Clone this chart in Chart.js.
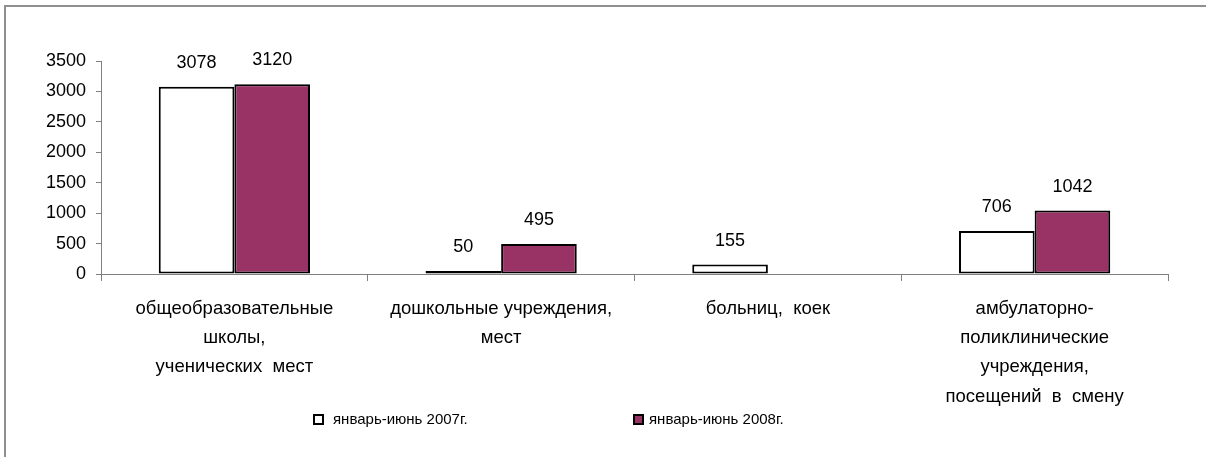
<!DOCTYPE html>
<html>
<head>
<meta charset="utf-8">
<script src="https://cdn.jsdelivr.net/npm/chart.js@4.4.1/dist/chart.umd.min.js"></script>
<style>
  html, body { margin: 0; padding: 0; background: #fff; overflow: hidden; }
  #wrap { position: relative; width: 1206px; height: 457px; overflow: hidden; }
  #frame { position: absolute; left: 4px; top: 5px; width: 1400px; height: 600px; border-left: 2px solid #8f8f8f; border-top: 2px solid #8f8f8f; }
  canvas { position: absolute; left: 0; top: 0; }
</style>
</head>
<body>
<div id="wrap">
  <div id="frame"></div>
  <canvas id="chart" width="1206" height="457"></canvas>
</div>
<script>
const categories = [
    ['общеобразовательные', 'школы,', 'ученических  мест'],
    ['дошкольные учреждения,', 'мест'],
    ['больниц,  коек'],
    ['амбулаторно-', 'поликлинические', 'учреждения,', 'посещений  в  смену']
];
const seriesNames = ['январь-июнь 2007г.', 'январь-июнь 2008г.'];
const values2007 = [3078, 50, 155, 706];
const values2008 = [3120, 495, null, 1042];
const yTicks = [0, 500, 1000, 1500, 2000, 2500, 3000, 3500];

const FONT = '"Liberation Sans", Arial, sans-serif';

// numbers above the bars
const valueLabels = {
    id: 'valueLabels',
    afterDatasetsDraw(chart) {
        const ctx = chart.ctx;
        ctx.save();
        ctx.font = '18px ' + FONT;
        ctx.fillStyle = '#000';
        ctx.textAlign = 'center';
        ctx.textBaseline = 'middle';
        chart.data.datasets.forEach((ds, i) => {
            chart.getDatasetMeta(i).data.forEach((bar, j) => {
                if (ds.data[j] == null) return;
                ctx.fillText(String(ds.data[j]), bar.x, bar.y - 24);
            });
        });
        ctx.restore();
    }
};

// legend laid out like the original sheet
const sheetLegend = {
    id: 'sheetLegend',
    afterDraw(chart) {
        const ctx = chart.ctx;
        const boxX = [313, 633];
        const textX = [333, 649];
        ctx.save();
        ctx.font = '15px ' + FONT;
        ctx.textBaseline = 'middle';
        ctx.textAlign = 'left';
        chart.data.datasets.forEach((ds, i) => {
            const y = 419;
            ctx.fillStyle = ds.backgroundColor;
            ctx.fillRect(boxX[i], y - 5, 11, 11);
            ctx.strokeStyle = '#000';
            ctx.lineWidth = 2;
            ctx.strokeRect(boxX[i] + 1, y - 4, 9, 9);
            ctx.fillStyle = '#000';
            ctx.fillText(ds.label, textX[i], y + 1);
        });
        ctx.restore();
    }
};

const ctx = document.getElementById('chart').getContext('2d');
new Chart(ctx, {
    type: 'bar',
    data: {
        labels: categories,
        datasets: [{
            label: seriesNames[0],
            data: values2007,
            backgroundColor: '#ffffff',
            borderColor: '#000000',
            borderWidth: 2,
            borderSkipped: false
        }, {
            label: seriesNames[1],
            data: values2008,
            backgroundColor: '#993366',
            borderColor: '#000000',
            borderWidth: 2,
            borderSkipped: false
        }]
    },
    options: {
        responsive: false,
        animation: false,
        devicePixelRatio: 1,
        categoryPercentage: 0.567,
        barPercentage: 1,
        layout: { padding: { left: 0, top: 61, right: 38, bottom: 0 } },
        plugins: {
            legend: { display: false },
            tooltip: { enabled: false }
        },
        scales: {
            x: {
                afterFit: scale => { scale.height = 183; },
                grid: { offset: true, drawOnChartArea: false, tickLength: 7, color: '#808080' },
                border: { color: '#808080', width: 1 },
                ticks: {
                    color: '#000',
                    padding: 13,
                    maxRotation: 0,
                    autoSkip: false,
                    font: { family: FONT, size: 18.5, lineHeight: '29.3px' }
                }
            },
            y: {
                min: 0,
                max: 3500,
                afterFit: scale => { scale.width = 101; },
                afterBuildTicks: scale => { scale.ticks = yTicks.map(v => ({ value: v })); },
                grid: { drawOnChartArea: false, tickLength: 5, color: '#808080' },
                border: { color: '#808080', width: 1 },
                ticks: {
                    color: '#000',
                    padding: 10,
                    callback: value => String(value),
                    font: { family: FONT, size: 18 }
                }
            }
        }
    },
    plugins: [valueLabels, sheetLegend]
});
</script>
</body>
</html>
